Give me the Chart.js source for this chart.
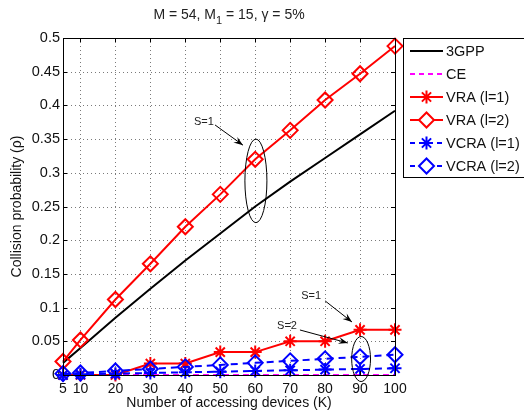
<!DOCTYPE html>
<html>
<head>
<meta charset="utf-8">
<script src="https://cdn.jsdelivr.net/npm/chart.js@4.4.1/dist/chart.umd.min.js"></script>
<style>
  body { margin: 0; background: #fff; }
</style>
</head>
<body>
<canvas id="chart" width="524" height="417"></canvas>
<script>
// number of accessing devices K
var devices = [5, 10, 20, 30, 40, 50, 60, 70, 80, 90, 100];
var xTicks = [5, 10, 20, 30, 40, 50, 60, 70, 80, 90, 100];

// collision probability per scheme
var gpp3   = [0.018, 0.040, 0.085, 0.128, 0.170, 0.210, 0.250, 0.287, 0.322, 0.357, 0.392];
var ce     = [0, 0, 0, 0, 0, 0, 0, 0, 0, 0, 0];
var vra1   = [0, 0, 0, 0.017, 0.017, 0.034, 0.034, 0.050, 0.050, 0.067, 0.067];
var vra2   = [0.020, 0.052, 0.112, 0.165, 0.220, 0.268, 0.320, 0.363, 0.408, 0.447, 0.488];
var vcra1  = [0, 0.001, 0.002, 0.003, 0.004, 0.005, 0.006, 0.007, 0.008, 0.009, 0.010];
var vcra2  = [0.002, 0.003, 0.006, 0.009, 0.012, 0.015, 0.018, 0.021, 0.024, 0.027, 0.030];

var names = ['3GPP', 'CE', 'VRA (l=1)', 'VRA (l=2)', 'VCRA (l=1)', 'VCRA (l=2)'];

// annotations in data units
var ellipses = [
  { x: 60.2, y: 0.288, rx: 3.15, ry: 0.062 },
  { x: 90.3, y: 0.0237, rx: 2.7, ry: 0.0334 }
];
var arrows = [
  { text: 'S=1', tx: 45.3, ty: 0.375, x0: 48.5, y0: 0.371, x1: 56.5, y1: 0.341 },
  { text: 'S=1', tx: 76.0, ty: 0.117, x0: 80.0, y0: 0.110, x1: 87.7, y1: 0.0786 },
  { text: 'S=2', tx: 69.1, ty: 0.0727, x0: 72.8, y0: 0.0668, x1: 86.5, y1: 0.0475 }
];

function pts(arr) {
  return arr.map(function (v, i) { return { x: devices[i], y: v }; });
}

var FONT = '"Liberation Sans", Arial, sans-serif';

function series(i, data, color, dash, style, order) {
  return {
    label: names[i],
    data: pts(data),
    borderColor: color,
    backgroundColor: 'rgba(0,0,0,0)',
    borderWidth: 2,
    borderDash: dash,
    pointStyle: style || false,
    pointRadius: style ? (style === 'star' ? 6.5 : 7.5) : 0,
    pointBorderWidth: style ? 2 : 0,
    pointBorderColor: color,
    pointBackgroundColor: 'rgba(0,0,0,0)',
    tension: 0,
    clip: false,
    order: order
  };
}

var datasets = [
  series(0, gpp3, '#000000', [], null, 6),
  series(1, ce, '#ff00ff', [6, 4], null, 5),
  series(2, vra1, '#ff0000', [], 'star', 4),
  series(3, vra2, '#ff0000', [], 'rectRot', 3),
  series(4, vcra1, '#0000ff', [7, 5], 'star', 2),
  series(5, vcra2, '#0000ff', [7, 5], 'rectRot', 1)
];

var extras = {
  id: 'extras',
  beforeDatasetsDraw: function (chart) {
    // dotted grid like the matlab figure
    var ctx = chart.ctx, a = chart.chartArea;
    var xs = chart.scales.x, ys = chart.scales.y;
    ctx.save();
    ctx.strokeStyle = '#7a7a7a';
    ctx.lineWidth = 1;
    ctx.setLineDash([1, 3]);
    ctx.beginPath();
    xTicks.slice(1, -1).forEach(function (v) {
      var px = Math.round(xs.getPixelForValue(v)) + 0.5;
      ctx.moveTo(px, a.top); ctx.lineTo(px, a.bottom);
    });
    for (var k = 1; k < 10; k++) {
      var py = Math.round(ys.getPixelForValue(k * 0.05)) + 0.5;
      ctx.moveTo(a.left, py); ctx.lineTo(a.right, py);
    }
    ctx.stroke();
    ctx.restore();
  },
  afterDraw: function (chart) {
    var ctx = chart.ctx;
    var a = chart.chartArea;
    var xs = chart.scales.x, ys = chart.scales.y;
    ctx.save();

    // frame + inward ticks
    ctx.strokeStyle = '#000';
    ctx.lineWidth = 1;
    ctx.strokeRect(a.left + 0.5, a.top + 0.5, a.right - a.left, a.bottom - a.top);
    ctx.beginPath();
    xTicks.forEach(function (v) {
      var px = Math.round(xs.getPixelForValue(v)) + 0.5;
      ctx.moveTo(px, a.bottom); ctx.lineTo(px, a.bottom - 4);
      ctx.moveTo(px, a.top); ctx.lineTo(px, a.top + 4);
    });
    for (var k = 0; k <= 10; k++) {
      var py = Math.round(ys.getPixelForValue(k * 0.05)) + 0.5;
      ctx.moveTo(a.left, py); ctx.lineTo(a.left + 4, py);
      ctx.moveTo(a.right, py); ctx.lineTo(a.right - 4, py);
    }
    ctx.stroke();

    // title with subscript
    ctx.fillStyle = '#222';
    ctx.textBaseline = 'middle';
    ctx.textAlign = 'left';
    var big = '14px ' + FONT, small = '11px ' + FONT;
    var p1 = 'M = 54, M', p2 = '1', p3 = ' = 15, \u03b3 = 5%';
    ctx.font = big; var w1 = ctx.measureText(p1).width, w3 = ctx.measureText(p3).width;
    ctx.font = small; var w2 = ctx.measureText(p2).width;
    var tx = (a.left + a.right) / 2 - (w1 + w2 + w3) / 2, ty = 15;
    ctx.font = big; ctx.fillText(p1, tx, ty);
    ctx.font = small; ctx.fillText(p2, tx + w1, ty + 6);
    ctx.font = big; ctx.fillText(p3, tx + w1 + w2, ty);

    // ellipses
    ctx.strokeStyle = '#000';
    ctx.lineWidth = 1;
    ellipses.forEach(function (e) {
      var cx = xs.getPixelForValue(e.x), cy = ys.getPixelForValue(e.y);
      var rx = xs.getPixelForValue(e.x + e.rx) - cx;
      var ry = cy - ys.getPixelForValue(e.y + e.ry);
      ctx.beginPath();
      ctx.ellipse(cx, cy, rx, ry, 0, 0, Math.PI * 2);
      ctx.stroke();
    });

    // arrows with labels
    ctx.font = '11px ' + FONT;
    ctx.textAlign = 'center';
    ctx.fillStyle = '#222';
    arrows.forEach(function (r) {
      var x0 = xs.getPixelForValue(r.x0), y0 = ys.getPixelForValue(r.y0);
      var x1 = xs.getPixelForValue(r.x1), y1 = ys.getPixelForValue(r.y1);
      ctx.fillText(r.text, xs.getPixelForValue(r.tx), ys.getPixelForValue(r.ty));
      ctx.beginPath();
      ctx.moveTo(x0, y0); ctx.lineTo(x1, y1);
      ctx.stroke();
      var ang = Math.atan2(y1 - y0, x1 - x0), L = 10, W = 0.35;
      ctx.beginPath();
      ctx.moveTo(x1, y1);
      ctx.lineTo(x1 - L * Math.cos(ang - W), y1 - L * Math.sin(ang - W));
      ctx.lineTo(x1 - L * 0.6 * Math.cos(ang), y1 - L * 0.6 * Math.sin(ang));
      ctx.lineTo(x1 - L * Math.cos(ang + W), y1 - L * Math.sin(ang + W));
      ctx.closePath();
      ctx.fillStyle = '#000';
      ctx.fill();
      ctx.fillStyle = '#222';
    });

    // legend box
    var lx = 403, ly = 38, lw = 130, lh = 139;
    ctx.fillStyle = '#fff';
    ctx.fillRect(lx, ly, lw, lh);
    ctx.strokeStyle = '#000';
    ctx.lineWidth = 1;
    ctx.strokeRect(lx + 0.5, ly + 0.5, lw, lh);
    ctx.font = '14.5px ' + FONT;
    ctx.textAlign = 'left';
    ctx.textBaseline = 'middle';
    datasets.forEach(function (d, i) {
      var yy = 51 + i * 23;
      ctx.strokeStyle = d.borderColor;
      ctx.lineWidth = 2;
      ctx.setLineDash(d.borderDash.length ? [5, 4] : []);
      ctx.beginPath();
      ctx.moveTo(410, yy); ctx.lineTo(443, yy);
      ctx.stroke();
      ctx.setLineDash([]);
      if (d.pointStyle) {
        ctx.fillStyle = '#fff';
        ctx.lineWidth = d.pointBorderWidth;
        Chart.helpers.drawPoint(ctx, { pointStyle: d.pointStyle, radius: d.pointRadius, rotation: 0, borderWidth: d.pointBorderWidth }, 426.5, yy);
      }
      ctx.fillStyle = '#111';
      ctx.fillText(d.label, 446, yy + 1);
    });
    ctx.restore();
  }
};

new Chart(document.getElementById('chart'), {
  type: 'line',
  data: { datasets: datasets },
  options: {
    responsive: false,
    animation: false,
    devicePixelRatio: 1,
    layout: { padding: { top: 38, right: 129, left: 0, bottom: 0 } },
    plugins: { legend: { display: false }, tooltip: { enabled: false }, title: { display: false } },
    scales: {
      x: {
        type: 'linear',
        min: 5,
        max: 100,
        afterBuildTicks: function (s) { s.ticks = xTicks.map(function (v) { return { value: v }; }); },
        afterFit: function (s) { s.height = 42; },
        ticks: { color: '#111', font: { family: FONT, size: 14 }, padding: 6, maxRotation: 0, autoSkip: false },
        grid: { display: false, drawTicks: false },
        border: { display: false },
        title: { display: true, text: 'Number of accessing devices (K)', color: '#111', font: { family: FONT, size: 14 }, padding: { top: 0, bottom: 5 } }
      },
      y: {
        min: 0,
        max: 0.5,
        afterFit: function (s) { s.width = 63; },
        ticks: {
          stepSize: 0.05,
          color: '#111',
          font: { family: FONT, size: 14.5 },
          padding: 3,
          callback: function (v) { return String(+v.toFixed(2)); }
        },
        grid: { display: false, drawTicks: false },
        border: { display: false },
        title: { display: true, text: 'Collision probability (\u03c1)', color: '#111', font: { family: FONT, size: 14 }, padding: { top: 9, bottom: 0 } }
      }
    }
  },
  plugins: [extras]
});
</script>
</body>
</html>
